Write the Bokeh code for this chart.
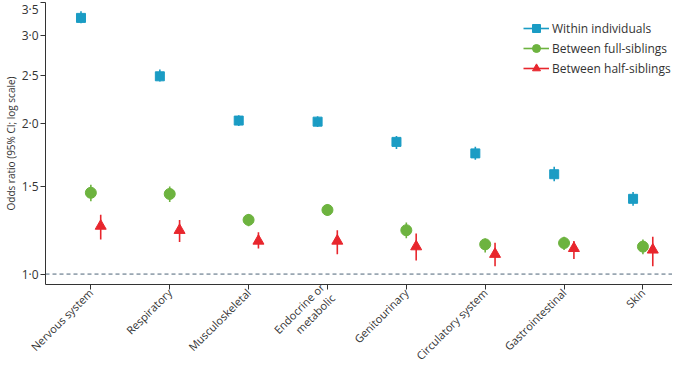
import math
from bokeh.plotting import figure
from bokeh.models import (ColumnDataSource, Range1d, FixedTicker, Span, Legend, LegendItem)
from bokeh.transform import dodge
from bokeh.embed import file_html
from bokeh.resources import INLINE

categories = ["Nervous system", "Respiratory", "Musculoskeletal", "Endocrine or\nmetabolic",
              "Genitourinary", "Circulatory system", "Gastrointestinal", "Skin"]

within = [3.26, 2.49, 2.03, 2.02, 1.84, 1.745, 1.585, 1.415]
within_lo = [3.18, 2.43, 1.98, 1.97, 1.78, 1.695, 1.535, 1.37]
within_hi = [3.36, 2.57, 2.08, 2.07, 1.89, 1.80, 1.64, 1.46]

full = [1.455, 1.447, 1.284, 1.344, 1.224, 1.147, 1.154, 1.135]
full_lo = [1.40, 1.395, 1.247, 1.308, 1.18, 1.105, 1.118, 1.096]
full_hi = [1.51, 1.498, 1.32, 1.38, 1.269, 1.178, 1.188, 1.173]

half = [1.248, 1.224, 1.165, 1.165, 1.135, 1.096, 1.126, 1.118]
half_lo = [1.173, 1.159, 1.125, 1.096, 1.064, 1.037, 1.072, 1.037]
half_hi = [1.314, 1.284, 1.213, 1.224, 1.206, 1.156, 1.165, 1.188]

y_ticks = [1.0, 1.5, 2.0, 2.5, 3.0, 3.5]
y_tick_labels = ["1·0", "1·5", "2·0", "2·5", "3·0", "3·5"]

series_names = ["Within individuals", "Between full-siblings", "Between half-siblings"]
colors = ["#1a9cc4", "#6db33f", "#e8262d"]
markers = ["square", "circle", "triangle"]
sizes = [9, 11, 11]
offsets = [-0.125, 0.0, 0.125]

FONT = "Open Sans"

p = figure(width=672, height=371, output_backend="svg", toolbar_location=None,
           y_axis_type="log", x_range=Range1d(-0.575, 7.375), y_range=Range1d(0.953, 3.5),
           min_border_left=36, min_border_right=0, min_border_top=2, min_border_bottom=0)
p.outline_line_color = None
p.xgrid.visible = False
p.ygrid.visible = False
p.background_fill_color = "white"

xs = list(range(len(categories)))
items = []
for name, vals, lo, hi, col, mk, sz, off in zip(
        series_names, [within, full, half], [within_lo, full_lo, half_lo],
        [within_hi, full_hi, half_hi], colors, markers, sizes, offsets):
    src = ColumnDataSource(dict(x=xs, y=vals, lo=lo, hi=hi))
    seg = p.segment(x0=dodge("x", off), y0="lo", x1=dodge("x", off), y1="hi", source=src,
                    line_color=col, line_width=1.6)
    sc = p.scatter(x=dodge("x", off), y="y", source=src, marker=mk, size=sz,
                   fill_color=col, line_color=col)
    items.append(LegendItem(label=name, renderers=[seg, sc]))

p.add_layout(Span(location=1.0, dimension="width", line_color="#4d6478",
                  line_dash="4 3", line_width=1))

legend = Legend(items=items, location=(478, 206), orientation="vertical")
legend.border_line_color = None
legend.background_fill_alpha = 0
legend.padding = 0
legend.spacing = 0
legend.margin = 0
legend.label_height = 20
legend.glyph_height = 20
legend.glyph_width = 26
legend.label_standoff = 3
legend.label_text_font = FONT
legend.label_text_font_size = "12px"
legend.label_text_color = "#333333"
p.add_layout(legend)

p.xaxis.ticker = FixedTicker(ticks=xs)
p.xaxis.major_label_overrides = {i: c for i, c in enumerate(categories)}
p.xaxis.major_label_orientation = math.pi / 4
p.xaxis.minor_tick_line_color = None
p.xaxis.major_tick_in = 0
p.xaxis.major_tick_out = 5
p.xaxis.axis_line_color = "#333333"
p.xaxis.major_tick_line_color = "#333333"
p.xaxis.major_label_text_font = FONT
p.xaxis.major_label_text_font_size = "11px"
p.xaxis.major_label_text_color = "#333333"
p.xaxis.major_label_text_line_height = 1.0
p.xaxis.major_label_standoff = 1

p.yaxis.ticker = FixedTicker(ticks=y_ticks)
p.yaxis.major_label_overrides = {t: l for t, l in zip(y_ticks, y_tick_labels)}
p.yaxis.minor_tick_line_color = None
p.yaxis.major_tick_in = 0
p.yaxis.major_tick_out = 5
p.yaxis.axis_line_color = "#333333"
p.yaxis.major_tick_line_color = "#333333"
p.yaxis.major_label_text_font = FONT
p.yaxis.major_label_text_font_size = "12px"
p.yaxis.major_label_text_color = "#333333"
p.yaxis.major_label_standoff = 2
p.yaxis.axis_label = "Odds ratio (95% CI; log scale)"
p.yaxis.axis_label_text_font = FONT
p.yaxis.axis_label_text_font_size = "10px"
p.yaxis.axis_label_text_font_style = "normal"
p.yaxis.axis_label_text_color = "#333333"
p.yaxis.axis_label_standoff = 1

open("out.html", "w").write(file_html(p, INLINE))
